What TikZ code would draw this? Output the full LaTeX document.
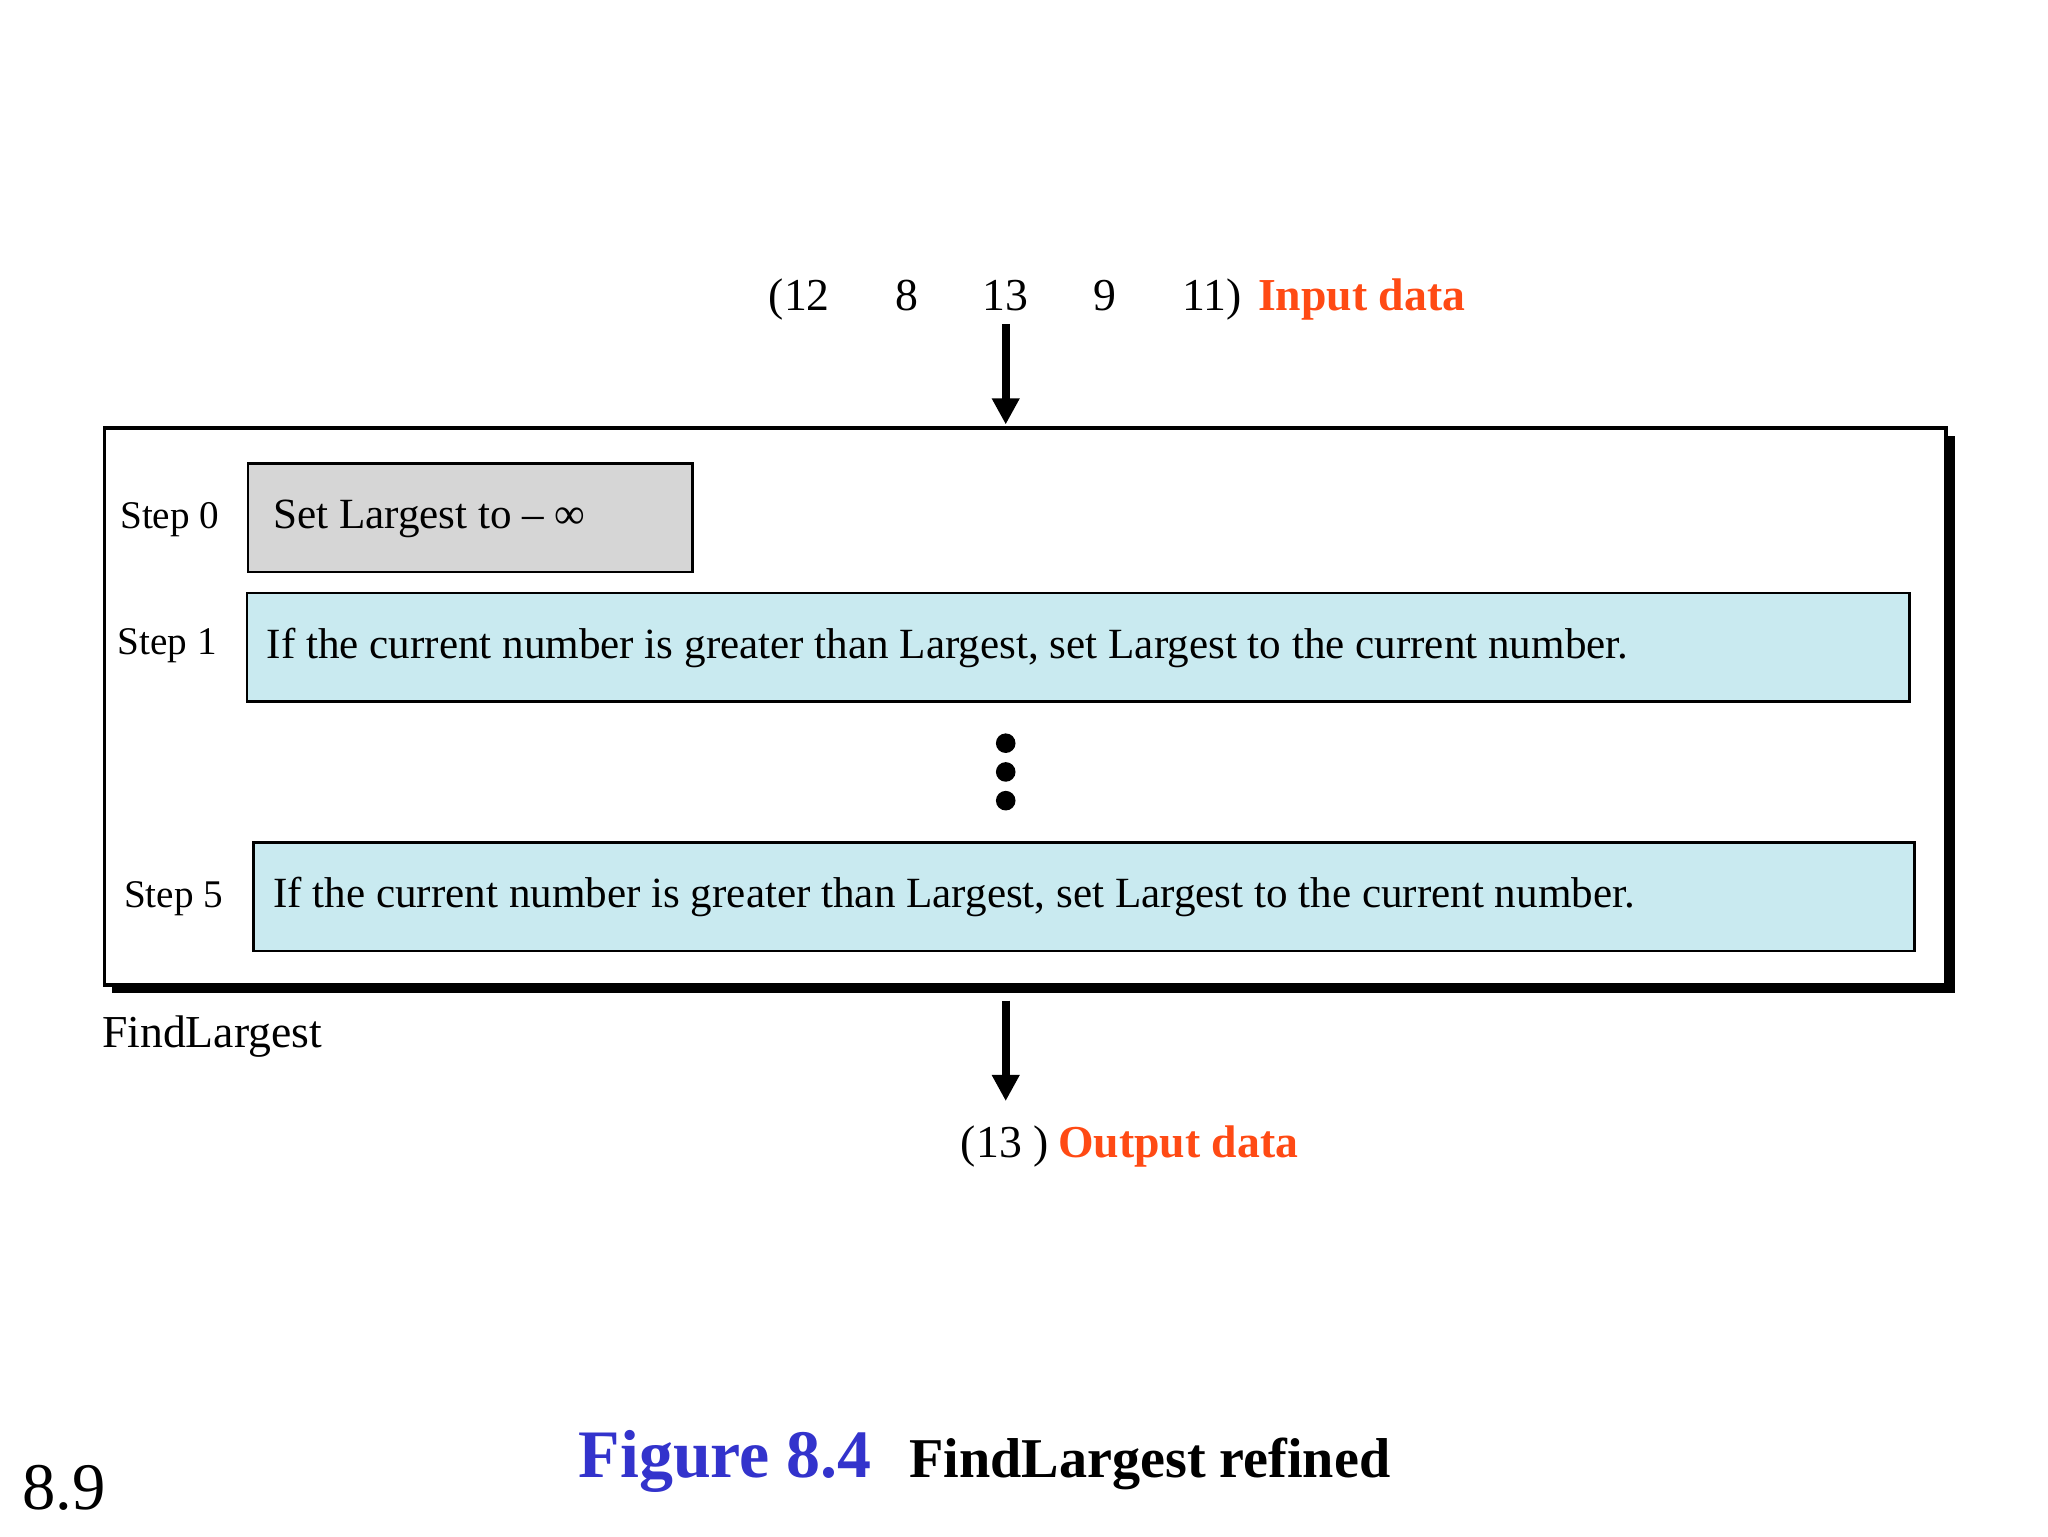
\documentclass[tikz,border=0pt]{standalone}
\usepackage{fontspec}
\usetikzlibrary{arrows.meta}
\setmainfont{Liberation Serif}
\definecolor{hot}{HTML}{FF4A14}
\definecolor{figblue}{HTML}{3333CC}
\definecolor{stepcyan}{HTML}{C9EAF0}
\definecolor{stepgray}{HTML}{D6D6D6}
\begin{document}
\begin{tikzpicture}[x=1pt,y=-1pt,
    txt/.style={inner sep=0pt, font=\fontsize{33}{38}\selectfont},
    lab/.style={inner sep=0pt, font=\fontsize{30}{34}\selectfont},
    big/.style={inner sep=0pt, anchor=base, font=\fontsize{35}{40}\selectfont},
    box/.style={draw, line width=2pt},
    arrow/.style={-{Triangle[length=20pt,width=20pt]}, line width=6pt}
]
    \useasboundingbox (0,0) rectangle (1568,1176);

    % outer box with shadow
    \fill (86,334) rectangle (1497,760);
    \draw[fill=white, line width=3pt] (80,328) rectangle (1490,754);

    % steps
    \draw[box, fill=stepgray] (190,355) rectangle (530,438);
    \node[txt, anchor=west] (s0) at (209,397) {Set Largest to – ∞};
    \draw[box, fill=stepcyan] (189,454) rectangle (1462,537);
    \node[txt, anchor=west] (s1) at (204,496) {If the current number is greater than Largest, set Largest to the current number.};
    \draw[box, fill=stepcyan] (194,645) rectangle (1466,728);
    \node[txt, anchor=west] (s5) at (209,687) {If the current number is greater than Largest, set Largest to the current number.};
    \node[lab] (l0) at (130,398) {Step 0};
    \node[lab] (l1) at (128,494) {Step 1};
    \node[lab] (l5) at (133,688) {Step 5};
    \foreach \y in {569,591,613} \fill (770,\y) circle (7.5);

    % input
    \node[big] (i1) at (612,238) {(12};
    \node[big] (i2) at (694,238) {8};
    \node[big] (i3) at (770,238) {13};
    \node[big] (i4) at (846,238) {9};
    \node[big] (i5) at (928,238) {11)};
    \node[big, anchor=base west, text=hot, font=\fontsize{35}{40}\selectfont\bfseries] (in) at (963,238) {Input data};
    \coordinate (ta) at (770,248);
    \coordinate (tb) at (770,325);
    \draw[arrow] (ta) -- (tb);

    % output
    \coordinate (ba) at (770,766);
    \coordinate (bb) at (770,843);
    \draw[arrow] (ba) -- (bb);
    \node[big, anchor=base east] (o1) at (803,886) {(13 )};
    \node[big, anchor=base west, text=hot, font=\fontsize{35}{40}\selectfont\bfseries] (out) at (810,886) {Output data};
    \node[big, anchor=base west] (fl) at (78,802) {FindLargest};

    % caption
    \node[inner sep=0pt, anchor=base west, text=figblue, font=\fontsize{52}{58}\selectfont\bfseries] (fig) at (443,1131) {Figure 8.4};
    \node[inner sep=0pt, anchor=base west, font=\fontsize{43}{48}\selectfont\bfseries] (cap) at (696,1131) {FindLargest refined};
    \node[inner sep=0pt, anchor=base west, font=\fontsize{51}{56}\selectfont] (pg) at (17,1156) {8.9};
\end{tikzpicture}
\end{document}
